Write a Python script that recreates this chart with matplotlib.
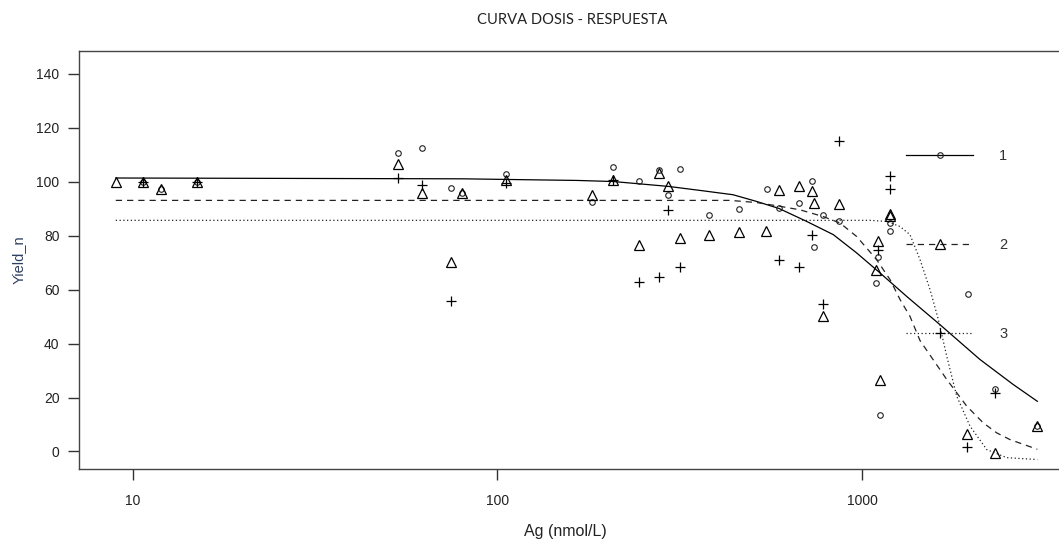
import matplotlib.pyplot as plt
from matplotlib.lines import Line2D
from matplotlib.ticker import NullLocator

x1 = [10.67, 11.94, 14.95, 53.4, 62.1, 74.4, 79.8, 105.5, 181.7, 207.9, 244.9, 277.9, 293.8, 316.8,
      381.1, 459.8, 547.6, 592, 673, 730.6, 739.8, 783, 866.5, 1092, 1104, 1118, 1194, 1194,
      1957, 2312, 3027]
y1 = [100, 97.3, 100, 110.6, 112.7, 97.7, 95.8, 102.8, 92.5, 105.4, 100.2, 104.2, 95.2, 104.8,
      87.5, 90, 97.5, 90.1, 92.1, 100.4, 75.8, 87.7, 85.3, 62.5, 72, 13.5, 84.9, 81.9,
      58.4, 23, 9.4]

x2 = [8.97, 10.67, 11.94, 14.95, 53.4, 62.1, 74.4, 79.8, 105.5, 181.7, 207.9, 244.9, 277.9, 293.8,
      316.8, 381.1, 459.8, 545.3, 592, 673, 730.6, 739.8, 783, 866.5, 1092, 1104, 1118, 1194, 1194,
      1945, 2312, 3027]
y2 = [100, 100, 97.3, 100, 106.5, 96, 70.1, 95.8, 100.5, 95.2, 100.7, 76.4, 103.1, 98.6,
      79.1, 80.1, 81.4, 81.9, 97, 98.6, 96.4, 92.1, 50.1, 91.9, 67.2, 77.9, 26.5, 88.2, 87.4,
      6.4, -0.5, 9.4]

x3 = [10.67, 14.95, 53.4, 62.1, 74.4, 105.5, 207.9, 244.9, 277.9, 293.8, 316.8, 592, 673, 730.6,
      783, 866.5, 1104, 1194, 1194, 1945, 2312]
y3 = [100, 100, 101.4, 98.9, 55.7, 99.5, 100.7, 62.7, 64.7, 89.4, 68.5, 71, 68.5, 80.4,
      54.7, 115.3, 74.6, 102, 97.4, 1.6, 21.5]

# curvas ajustadas
cx1 = [8.97, 80.4, 129.1, 165.2, 207.5, 293.7, 359.4, 442.7, 514.1, 592, 705.1, 834.2, 967.2,
       1120.5, 1326, 1637, 2107, 2601, 3027]
cy1 = [101.4, 101.1, 100.7, 100.5, 100.1, 98.3, 96.8, 95.2, 92.7, 90.1, 85.3, 80.4, 73.6,
       66.2, 57.5, 47.0, 34.1, 24.8, 18.6]

cx2 = [8.97, 434.5, 514, 595.7, 675.9, 783, 870.5, 967, 1097, 1194, 1272, 1354, 1443, 1708,
       1938, 2151, 2342, 2547, 3027]
cy2 = [93.1, 93.1, 92.3, 90.9, 89.6, 87.1, 84.7, 79.7, 71.1, 63.7, 56.3, 50.1, 41.1, 26.7,
       16.8, 10.6, 6.9, 4.4, 0.8]

cx3 = [8.97, 1052, 1169, 1272, 1354, 1443, 1537, 1620, 1708, 1819, 1978, 2199, 2495, 3027]
cy3 = [85.7, 85.7, 85.3, 83.4, 80.4, 71.1, 60.0, 48.9, 35.3, 20.5, 9.4, 0.7, -2.3, -3.0]

etiquetas = ['1', '2', '3']

plt.rcParams['font.family'] = ['Liberation Sans', 'DejaVu Sans']

fig = plt.figure(figsize=(10.59, 5.43), dpi=100)
ax = fig.add_axes([0.0746, 0.1363, 0.9254, 0.7698])

ax.plot(cx1, cy1, color='black', lw=0.9, ls='-')
ax.plot(cx2, cy2, color='#222222', lw=0.9, ls=(0, (5, 4)))
ax.plot(cx3, cy3, color='#222222', lw=0.9, ls=(0, (1, 2)))

ax.plot(x1, y1, ls='none', marker='o', ms=4, mfc='none', mec='#222222', mew=0.8)
ax.plot(x2, y2, ls='none', marker='^', ms=6.5, mfc='none', mec='black', mew=0.9)
ax.plot(x3, y3, ls='none', marker='+', ms=7.5, mec='black', mew=0.9)

ax.set_xscale('log')
ax.set_xlim(7.11, 3471)
ax.set_ylim(-6.5, 148.5)
ax.set_xticks([10, 100, 1000])
ax.set_xticklabels(['10', '100', '1000'])
ax.xaxis.set_minor_locator(NullLocator())
ax.set_yticks(range(0, 141, 20))

ax.tick_params(direction='out', length=8, width=1, color='#333333', labelsize=10, labelcolor='#222222')
ax.tick_params(axis='x', pad=10)
ax.tick_params(axis='y', pad=6)
for s in ['left', 'bottom', 'top']:
    ax.spines[s].set_color('#444444')
    ax.spines[s].set_linewidth(1)
ax.spines['right'].set_visible(False)

# leyenda
manejadores = [
    Line2D([], [], color='black', lw=0.9, ls='-', marker='o', ms=4, mfc='none', mec='#222222', mew=0.8),
    Line2D([], [], color='#222222', lw=0.9, ls=(0, (5, 4)), marker='^', ms=6.5, mfc='none', mec='black', mew=0.9),
    Line2D([], [], color='#222222', lw=0.9, ls=(0, (1, 2)), marker='+', ms=7.5, mec='black', mew=0.9),
]
ax.legend(manejadores, etiquetas, loc='upper left', bbox_to_anchor=(0.8439, 0.765),
          frameon=False, borderpad=0, borderaxespad=0, handlelength=4.6, handletextpad=1.8,
          labelspacing=5.15, fontsize=10.5, labelcolor='#333333')

fig.text(0.540, 0.963, 'CURVA DOSIS - RESPUESTA', ha='center', va='center',
         fontsize=10.6, family=['Lato', 'DejaVu Sans'], color='#222222')
fig.text(0.5335, 0.022, 'Ag (nmol/L)', ha='center', va='center', fontsize=11.5, color='#222222')
fig.text(0.018, 0.521, 'Yield_n', ha='center', va='center', rotation=90, fontsize=10.5, color='#2F4060')

fig.savefig('out.png', dpi=100)
